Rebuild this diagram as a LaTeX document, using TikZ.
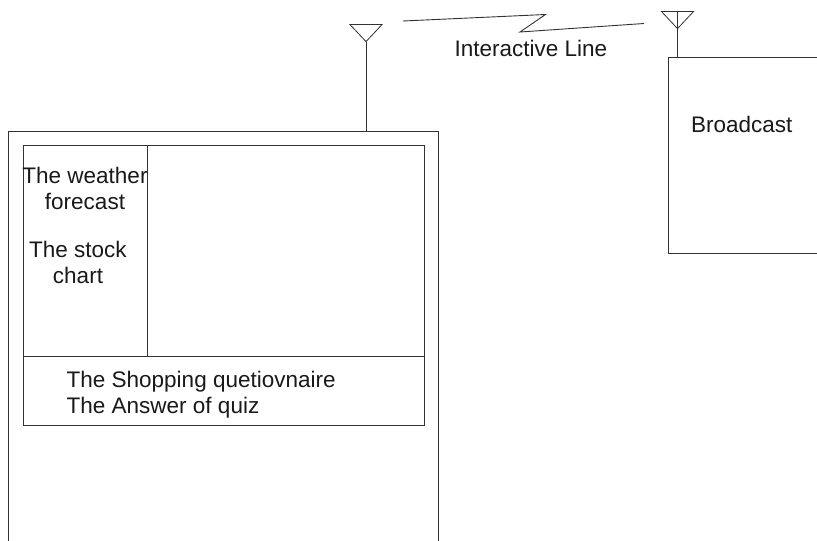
\documentclass[tikz,border=0pt]{standalone}
\usepackage{fontspec}
\setmainfont{Liberation Sans}
\usetikzlibrary{shapes.geometric, arrows}
\tikzstyle{panel} = [rectangle, draw=black!80, line width=0.9pt, inner sep=0pt, outer sep=0pt]
\tikzstyle{dish} = [isosceles triangle, shape border rotate=-90, isosceles triangle apex angle=86, isosceles triangle stretches, draw=black!80, line width=0.8pt, minimum width=32, minimum height=17, inner sep=0pt, outer sep=0pt]
\tikzstyle{caption} = [font=\fontsize{22.5}{25.5}\selectfont, text=black!90, align=center, inner sep=0pt]
\tikzstyle{wire} = [draw=black!80, line width=0.9pt]

\begin{document}
\begin{tikzpicture}[x=1pt, y=-1pt]
\useasboundingbox (0,0) rectangle (817,541);

\node (tv) [panel, minimum width=430, minimum height=439] at (223,350.5) {};
\node (menu) [panel, minimum width=124, minimum height=211] at (85,250.5) {};
\node (main) [panel, minimum width=277, minimum height=211] at (285.5,250.5) {};
\node (info) [panel, minimum width=401, minimum height=69] at (223.5,390.5) {};
\node (station) [panel, minimum width=170, minimum height=196] at (753,155) {};

\node (tvdish) [dish] at (366,31.5) {};
\node (stationdish) [dish] at (677.5,18.5) {};

\coordinate (tvbase) at (366,131);
\coordinate (stationbase) at (677.5,57);
\coordinate (linkstart) at (403,21);
\coordinate (linkup) at (545.5,14.5);
\coordinate (linkdown) at (520,32);
\coordinate (linkend) at (644,23.5);

\node (weather) [caption] at (85,188.5) {The weather\\forecast};
\node (stock) [caption] at (78,262.5) {The stock\\chart};
\node (shopping) [caption, anchor=west] at (66.5,381.5) {The Shopping quetiovnaire};
\node (answer) [caption, anchor=west] at (66.5,407.5) {The Answer of quiz};
\node (broadcast) [caption, anchor=west] at (691,124) {Broadcast};
\node (line) [caption] at (531,48) {Interactive Line};

\draw [wire] (tvdish.apex) -- (tvbase);
\draw [wire] (stationdish.lower side) -- (stationbase);
\draw [wire] (linkstart) -- (linkup) -- (linkdown) -- (linkend);

\end{tikzpicture}
\end{document}
